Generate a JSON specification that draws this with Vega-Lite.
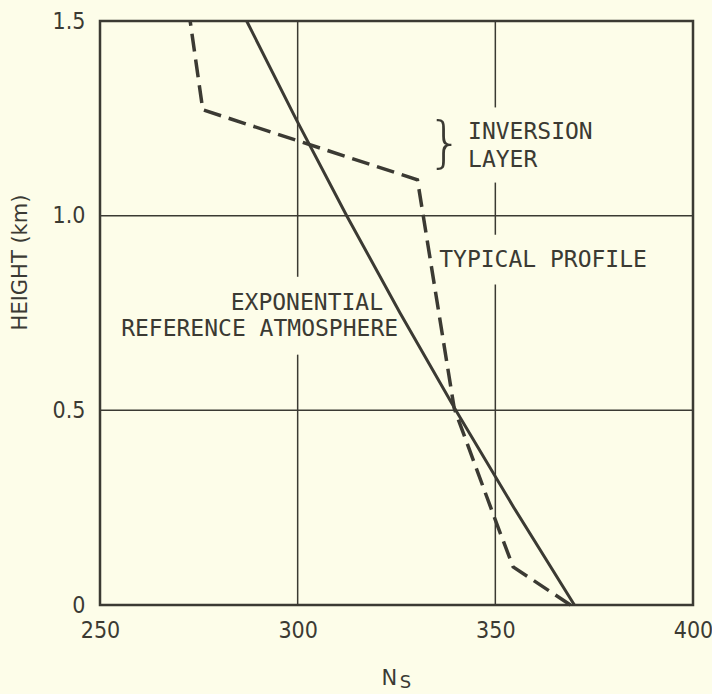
{
  "$schema": "https://vega.github.io/schema/vega-lite/v6.json",
  "width": 593,
  "height": 584,
  "autosize": {"type": "none"},
  "padding": {"left": 100, "top": 21, "right": 19, "bottom": 89},
  "background": "#fdfde9",
  "config": {
    "view": {"stroke": "#3b3a33", "strokeWidth": 2.5},
    "axis": {"ticks": false, "domain": false, "grid": false, "labelColor": "#3b3a33", "titleColor": "#3b3a33"}
  },
  "datasets": {
    "vgrid": [
      {"x": 300, "y": 1.5, "y2": 0.843},
      {"x": 300, "y": 0.643, "y2": 0},
      {"x": 350, "y": 1.5, "y2": 1.278},
      {"x": 350, "y": 1.085, "y2": 0.951},
      {"x": 350, "y": 0.823, "y2": 0}
    ],
    "hgrid": [
      {"y": 1.0, "x": 250, "x2": 400},
      {"y": 0.5, "x": 250, "x2": 400}
    ],
    "expo": [
      {"x": 370.0, "y": 0},
      {"x": 354.7, "y": 0.25},
      {"x": 340.0, "y": 0.5},
      {"x": 325.9, "y": 0.75},
      {"x": 312.4, "y": 1.0},
      {"x": 299.5, "y": 1.25},
      {"x": 287.1, "y": 1.5}
    ],
    "typical": [
      {"x": 369.0, "y": 0},
      {"x": 354.5, "y": 0.098},
      {"x": 350.3, "y": 0.21},
      {"x": 339.6, "y": 0.505},
      {"x": 330.3, "y": 1.092},
      {"x": 276.0, "y": 1.272},
      {"x": 272.8, "y": 1.5}
    ],
    "notes": [
      {"text": "EXPONENTIAL", "x": 321.6, "y": 0.776, "side": "right"},
      {"text": "REFERENCE ATMOSPHERE", "x": 325.4, "y": 0.71, "side": "right"},
      {"text": "INVERSION", "x": 343.1, "y": 1.216, "side": "left"},
      {"text": "LAYER", "x": 343.1, "y": 1.144, "side": "left"},
      {"text": "TYPICAL PROFILE", "x": 335.8, "y": 0.887, "side": "left"}
    ],
    "brace": [{"text": "}", "x": 337.3, "y": 1.184}],
    "xtitle": [
      {"text": "N", "x": 323.2, "y": -0.19, "part": "main"},
      {"text": "S", "x": 327.3, "y": -0.2, "part": "sub"}
    ]
  },
  "layer": [
    {
      "data": {"name": "vgrid"},
      "mark": {"type": "rule", "color": "#3b3a33", "strokeWidth": 1.5},
      "encoding": {
        "x": {
          "field": "x", "type": "quantitative",
          "scale": {"domain": [250, 400], "nice": false, "zero": false},
          "axis": {
            "values": [250, 300, 350, 400], "title": null, "labelFlush": false,
            "labelFont": "DejaVu Sans Condensed, Liberation Sans, sans-serif", "labelFontSize": 23, "labelPadding": 14
          }
        },
        "y": {
          "field": "y", "type": "quantitative",
          "scale": {"domain": [0, 1.5], "nice": false, "zero": false},
          "axis": {
            "values": [0, 0.5, 1, 1.5],
            "labelExpr": "datum.value == 0 ? '0' : format(datum.value, '.1f')",
            "labelFont": "DejaVu Sans Condensed, Liberation Sans, sans-serif", "labelFontSize": 23, "labelPadding": 15, "labelFlush": false,
            "title": "HEIGHT (km)", "titleFont": "DejaVu Sans", "titleFontSize": 21, "titleFontWeight": "normal",
            "titleX": -70, "titleY": 241
          }
        },
        "y2": {"field": "y2"}
      }
    },
    {
      "data": {"name": "hgrid"},
      "mark": {"type": "rule", "color": "#3b3a33", "strokeWidth": 1.5},
      "encoding": {
        "y": {"field": "y", "type": "quantitative"},
        "x": {"field": "x", "type": "quantitative"},
        "x2": {"field": "x2"}
      }
    },
    {
      "data": {"name": "expo"},
      "mark": {"type": "line", "color": "#3b3a33", "strokeWidth": 3},
      "encoding": {
        "x": {"field": "x", "type": "quantitative"},
        "y": {"field": "y", "type": "quantitative"},
        "order": {"field": "y", "type": "quantitative"}
      }
    },
    {
      "data": {"name": "typical"},
      "mark": {"type": "line", "color": "#3b3a33", "strokeWidth": 3.5, "strokeDash": [18, 8]},
      "encoding": {
        "x": {"field": "x", "type": "quantitative"},
        "y": {"field": "y", "type": "quantitative"},
        "order": {"field": "y", "type": "quantitative"}
      }
    },
    {
      "data": {"name": "notes"},
      "transform": [{"filter": "datum.side == 'right'"}],
      "mark": {"type": "text", "align": "right", "baseline": "middle", "font": "DejaVu Sans Mono", "fontSize": 23, "color": "#3b3a33"},
      "encoding": {
        "x": {"field": "x", "type": "quantitative"},
        "y": {"field": "y", "type": "quantitative"},
        "text": {"field": "text"}
      }
    },
    {
      "data": {"name": "notes"},
      "transform": [{"filter": "datum.side == 'left'"}],
      "mark": {"type": "text", "align": "left", "baseline": "middle", "font": "DejaVu Sans Mono", "fontSize": 23, "color": "#3b3a33"},
      "encoding": {
        "x": {"field": "x", "type": "quantitative"},
        "y": {"field": "y", "type": "quantitative"},
        "text": {"field": "text"}
      }
    },
    {
      "data": {"name": "brace"},
      "mark": {"type": "text", "align": "center", "baseline": "middle", "font": "DejaVu Sans", "fontWeight": 300, "fontSize": 56, "color": "#3b3a33"},
      "encoding": {
        "x": {"field": "x", "type": "quantitative"},
        "y": {"field": "y", "type": "quantitative"},
        "text": {"field": "text"}
      }
    },
    {
      "data": {"name": "xtitle"},
      "transform": [{"filter": "datum.part == 'main'"}],
      "mark": {"type": "text", "align": "center", "baseline": "middle", "font": "DejaVu Sans", "fontSize": 21, "color": "#3b3a33"},
      "encoding": {
        "x": {"field": "x", "type": "quantitative"},
        "y": {"field": "y", "type": "quantitative"},
        "text": {"field": "text"}
      }
    },
    {
      "data": {"name": "xtitle"},
      "transform": [{"filter": "datum.part == 'sub'"}],
      "mark": {"type": "text", "align": "center", "baseline": "middle", "font": "DejaVu Sans", "fontSize": 18, "color": "#3b3a33"},
      "encoding": {
        "x": {"field": "x", "type": "quantitative"},
        "y": {"field": "y", "type": "quantitative"},
        "text": {"field": "text"}
      }
    }
  ]
}
